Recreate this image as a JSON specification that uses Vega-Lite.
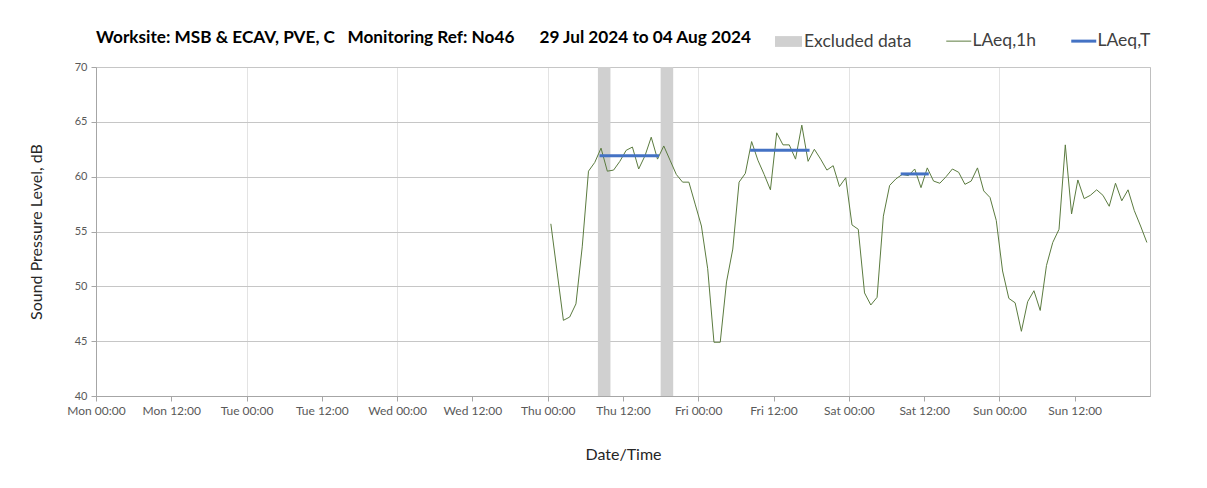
{
  "$schema": "https://vega.github.io/schema/vega-lite/v6.json",
  "width": 1054,
  "height": 329,
  "autosize": {"type": "none"},
  "padding": {"left": 96, "top": 67, "right": 57, "bottom": 92},
  "background": "white",
  "config": {
    "font": "Lato",
    "view": {"stroke": "#bfbfbf", "strokeWidth": 1}
  },
  "title": {
    "text": "Worksite: MSB & ECAV, PVE, C\u00a0\u00a0\u00a0Monitoring Ref: No46\u00a0\u00a0\u00a0\u00a0\u00a0\u00a029 Jul 2024 to 04 Aug 2024",
    "anchor": "start",
    "frame": "group",
    "fontSize": 17.2,
    "fontWeight": "bold",
    "color": "#000000",
    "baseline": "alphabetic",
    "offset": 0,
    "dy": 32
  },
  "datasets": {
    "excl": [
      {"t": "2024-08-01T08:00", "t2": "2024-08-01T10:00", "label": "Excluded data"},
      {"t": "2024-08-01T18:00", "t2": "2024-08-01T20:00", "label": "Excluded data"}
    ],
    "hourly": [
      {"t": "2024-08-01T00:30", "v": 55.7, "series": "LAeq,1h"},
      {"t": "2024-08-01T01:30", "v": 51.3, "series": "LAeq,1h"},
      {"t": "2024-08-01T02:30", "v": 46.9, "series": "LAeq,1h"},
      {"t": "2024-08-01T03:30", "v": 47.2, "series": "LAeq,1h"},
      {"t": "2024-08-01T04:30", "v": 48.4, "series": "LAeq,1h"},
      {"t": "2024-08-01T05:30", "v": 53.6, "series": "LAeq,1h"},
      {"t": "2024-08-01T06:30", "v": 60.5, "series": "LAeq,1h"},
      {"t": "2024-08-01T07:30", "v": 61.3, "series": "LAeq,1h"},
      {"t": "2024-08-01T08:30", "v": 62.6, "series": "LAeq,1h"},
      {"t": "2024-08-01T09:30", "v": 60.5, "series": "LAeq,1h"},
      {"t": "2024-08-01T10:30", "v": 60.6, "series": "LAeq,1h"},
      {"t": "2024-08-01T11:30", "v": 61.4, "series": "LAeq,1h"},
      {"t": "2024-08-01T12:30", "v": 62.4, "series": "LAeq,1h"},
      {"t": "2024-08-01T13:30", "v": 62.7, "series": "LAeq,1h"},
      {"t": "2024-08-01T14:30", "v": 60.7, "series": "LAeq,1h"},
      {"t": "2024-08-01T15:30", "v": 61.9, "series": "LAeq,1h"},
      {"t": "2024-08-01T16:30", "v": 63.6, "series": "LAeq,1h"},
      {"t": "2024-08-01T17:30", "v": 61.6, "series": "LAeq,1h"},
      {"t": "2024-08-01T18:30", "v": 62.8, "series": "LAeq,1h"},
      {"t": "2024-08-01T19:30", "v": 61.5, "series": "LAeq,1h"},
      {"t": "2024-08-01T20:30", "v": 60.2, "series": "LAeq,1h"},
      {"t": "2024-08-01T21:30", "v": 59.5, "series": "LAeq,1h"},
      {"t": "2024-08-01T22:30", "v": 59.5, "series": "LAeq,1h"},
      {"t": "2024-08-01T23:30", "v": 57.5, "series": "LAeq,1h"},
      {"t": "2024-08-02T00:30", "v": 55.5, "series": "LAeq,1h"},
      {"t": "2024-08-02T01:30", "v": 51.6, "series": "LAeq,1h"},
      {"t": "2024-08-02T02:30", "v": 44.9, "series": "LAeq,1h"},
      {"t": "2024-08-02T03:30", "v": 44.9, "series": "LAeq,1h"},
      {"t": "2024-08-02T04:30", "v": 50.4, "series": "LAeq,1h"},
      {"t": "2024-08-02T05:30", "v": 53.4, "series": "LAeq,1h"},
      {"t": "2024-08-02T06:30", "v": 59.5, "series": "LAeq,1h"},
      {"t": "2024-08-02T07:30", "v": 60.3, "series": "LAeq,1h"},
      {"t": "2024-08-02T08:30", "v": 63.2, "series": "LAeq,1h"},
      {"t": "2024-08-02T09:30", "v": 61.5, "series": "LAeq,1h"},
      {"t": "2024-08-02T10:30", "v": 60.2, "series": "LAeq,1h"},
      {"t": "2024-08-02T11:30", "v": 58.8, "series": "LAeq,1h"},
      {"t": "2024-08-02T12:30", "v": 64.0, "series": "LAeq,1h"},
      {"t": "2024-08-02T13:30", "v": 62.9, "series": "LAeq,1h"},
      {"t": "2024-08-02T14:30", "v": 62.9, "series": "LAeq,1h"},
      {"t": "2024-08-02T15:30", "v": 61.6, "series": "LAeq,1h"},
      {"t": "2024-08-02T16:30", "v": 64.7, "series": "LAeq,1h"},
      {"t": "2024-08-02T17:30", "v": 61.4, "series": "LAeq,1h"},
      {"t": "2024-08-02T18:30", "v": 62.5, "series": "LAeq,1h"},
      {"t": "2024-08-02T19:30", "v": 61.6, "series": "LAeq,1h"},
      {"t": "2024-08-02T20:30", "v": 60.6, "series": "LAeq,1h"},
      {"t": "2024-08-02T21:30", "v": 61.0, "series": "LAeq,1h"},
      {"t": "2024-08-02T22:30", "v": 59.1, "series": "LAeq,1h"},
      {"t": "2024-08-02T23:30", "v": 59.9, "series": "LAeq,1h"},
      {"t": "2024-08-03T00:30", "v": 55.6, "series": "LAeq,1h"},
      {"t": "2024-08-03T01:30", "v": 55.2, "series": "LAeq,1h"},
      {"t": "2024-08-03T02:30", "v": 49.4, "series": "LAeq,1h"},
      {"t": "2024-08-03T03:30", "v": 48.3, "series": "LAeq,1h"},
      {"t": "2024-08-03T04:30", "v": 49.0, "series": "LAeq,1h"},
      {"t": "2024-08-03T05:30", "v": 56.4, "series": "LAeq,1h"},
      {"t": "2024-08-03T06:30", "v": 59.2, "series": "LAeq,1h"},
      {"t": "2024-08-03T07:30", "v": 59.8, "series": "LAeq,1h"},
      {"t": "2024-08-03T08:30", "v": 60.2, "series": "LAeq,1h"},
      {"t": "2024-08-03T09:30", "v": 60.1, "series": "LAeq,1h"},
      {"t": "2024-08-03T10:30", "v": 60.7, "series": "LAeq,1h"},
      {"t": "2024-08-03T11:30", "v": 59.0, "series": "LAeq,1h"},
      {"t": "2024-08-03T12:30", "v": 60.8, "series": "LAeq,1h"},
      {"t": "2024-08-03T13:30", "v": 59.6, "series": "LAeq,1h"},
      {"t": "2024-08-03T14:30", "v": 59.4, "series": "LAeq,1h"},
      {"t": "2024-08-03T15:30", "v": 60.0, "series": "LAeq,1h"},
      {"t": "2024-08-03T16:30", "v": 60.7, "series": "LAeq,1h"},
      {"t": "2024-08-03T17:30", "v": 60.4, "series": "LAeq,1h"},
      {"t": "2024-08-03T18:30", "v": 59.3, "series": "LAeq,1h"},
      {"t": "2024-08-03T19:30", "v": 59.6, "series": "LAeq,1h"},
      {"t": "2024-08-03T20:30", "v": 60.8, "series": "LAeq,1h"},
      {"t": "2024-08-03T21:30", "v": 58.7, "series": "LAeq,1h"},
      {"t": "2024-08-03T22:30", "v": 58.1, "series": "LAeq,1h"},
      {"t": "2024-08-03T23:30", "v": 56.0, "series": "LAeq,1h"},
      {"t": "2024-08-04T00:30", "v": 51.4, "series": "LAeq,1h"},
      {"t": "2024-08-04T01:30", "v": 48.9, "series": "LAeq,1h"},
      {"t": "2024-08-04T02:30", "v": 48.5, "series": "LAeq,1h"},
      {"t": "2024-08-04T03:30", "v": 45.9, "series": "LAeq,1h"},
      {"t": "2024-08-04T04:30", "v": 48.6, "series": "LAeq,1h"},
      {"t": "2024-08-04T05:30", "v": 49.6, "series": "LAeq,1h"},
      {"t": "2024-08-04T06:30", "v": 47.8, "series": "LAeq,1h"},
      {"t": "2024-08-04T07:30", "v": 51.9, "series": "LAeq,1h"},
      {"t": "2024-08-04T08:30", "v": 54.0, "series": "LAeq,1h"},
      {"t": "2024-08-04T09:30", "v": 55.2, "series": "LAeq,1h"},
      {"t": "2024-08-04T10:30", "v": 62.9, "series": "LAeq,1h"},
      {"t": "2024-08-04T11:30", "v": 56.6, "series": "LAeq,1h"},
      {"t": "2024-08-04T12:30", "v": 59.7, "series": "LAeq,1h"},
      {"t": "2024-08-04T13:30", "v": 58.0, "series": "LAeq,1h"},
      {"t": "2024-08-04T14:30", "v": 58.3, "series": "LAeq,1h"},
      {"t": "2024-08-04T15:30", "v": 58.8, "series": "LAeq,1h"},
      {"t": "2024-08-04T16:30", "v": 58.3, "series": "LAeq,1h"},
      {"t": "2024-08-04T17:30", "v": 57.3, "series": "LAeq,1h"},
      {"t": "2024-08-04T18:30", "v": 59.4, "series": "LAeq,1h"},
      {"t": "2024-08-04T19:30", "v": 57.8, "series": "LAeq,1h"},
      {"t": "2024-08-04T20:30", "v": 58.8, "series": "LAeq,1h"},
      {"t": "2024-08-04T21:30", "v": 56.9, "series": "LAeq,1h"},
      {"t": "2024-08-04T22:30", "v": 55.5, "series": "LAeq,1h"},
      {"t": "2024-08-04T23:30", "v": 54.0, "series": "LAeq,1h"}
    ],
    "periods": [
      {"t": "2024-08-01T08:30", "t2": "2024-08-01T17:30", "v": 61.9, "series": "LAeq,T"},
      {"t": "2024-08-02T08:30", "t2": "2024-08-02T17:30", "v": 62.4, "series": "LAeq,T"},
      {"t": "2024-08-03T08:30", "t2": "2024-08-03T12:30", "v": 60.25, "series": "LAeq,T"}
    ]
  },
  "encoding": {
    "x": {
      "field": "t",
      "type": "temporal",
      "title": "Date/Time",
      "scale": {
        "domain": [
          {"year": 2024, "month": "jul", "date": 29, "hours": 0},
          {"year": 2024, "month": "aug", "date": 5, "hours": 0}
        ]
      },
      "axis": {
        "values": [
          {"year": 2024, "month": "jul", "date": 29, "hours": 0},
          {"year": 2024, "month": "jul", "date": 29, "hours": 12},
          {"year": 2024, "month": "jul", "date": 30, "hours": 0},
          {"year": 2024, "month": "jul", "date": 30, "hours": 12},
          {"year": 2024, "month": "jul", "date": 31, "hours": 0},
          {"year": 2024, "month": "jul", "date": 31, "hours": 12},
          {"year": 2024, "month": "aug", "date": 1, "hours": 0},
          {"year": 2024, "month": "aug", "date": 1, "hours": 12},
          {"year": 2024, "month": "aug", "date": 2, "hours": 0},
          {"year": 2024, "month": "aug", "date": 2, "hours": 12},
          {"year": 2024, "month": "aug", "date": 3, "hours": 0},
          {"year": 2024, "month": "aug", "date": 3, "hours": 12},
          {"year": 2024, "month": "aug", "date": 4, "hours": 0},
          {"year": 2024, "month": "aug", "date": 4, "hours": 12}
        ],
        "format": "%a %H:%M",
        "labelFontSize": 12,
        "labelColor": "#595959",
        "labelPadding": 4,
        "labelOverlap": false,
        "labelFlush": false,
        "tickSize": 5,
        "tickColor": "#a6a6a6",
        "domainColor": "#a6a6a6",
        "grid": true,
        "gridColor": {
          "condition": {"test": "hours(datum.value) === 12", "value": "rgba(0,0,0,0)"},
          "value": "#e3e3e3"
        },
        "titleFontSize": 16,
        "titleFontWeight": "normal",
        "titleColor": "#262626",
        "titlePadding": 30
      }
    }
  },
  "layer": [
    {
      "data": {"name": "excl"},
      "mark": {"type": "rect"},
      "encoding": {
        "x2": {"field": "t2"},
        "fill": {
          "field": "label",
          "type": "nominal",
          "scale": {"domain": ["Excluded data"], "range": ["#d0d0d0"]},
          "legend": {
            "orient": "none",
            "legendX": 679,
            "legendY": -39,
            "title": null,
            "direction": "horizontal",
            "symbolType": "M-1,-0.4H1V0.4H-1Z",
            "symbolSize": 729,
            "symbolStrokeWidth": 0,
            "symbolOpacity": 1,
            "labelFontSize": 17.5,
            "labelColor": "#404040",
            "labelOffset": 2
          }
        }
      }
    },
    {
      "data": {"name": "hourly"},
      "mark": {"type": "line", "strokeWidth": 1},
      "encoding": {
        "y": {
          "field": "v",
          "type": "quantitative",
          "title": "Sound Pressure Level, dB",
          "scale": {"domain": [40, 70], "nice": false, "zero": false},
          "axis": {
            "values": [40, 45, 50, 55, 60, 65, 70],
            "labelFontSize": 11,
            "labelColor": "#595959",
            "labelPadding": 4,
            "tickSize": 5,
            "tickColor": "#a6a6a6",
            "domainColor": "#a6a6a6",
            "gridColor": "#c6c6c6",
            "titleFontSize": 16,
            "titleFontWeight": "normal",
            "titleColor": "#262626",
            "titlePadding": 30
          }
        },
        "stroke": {
          "field": "series",
          "type": "nominal",
          "scale": {"domain": ["LAeq,1h", "LAeq,T"], "range": ["#5b7b3f", "#4472c4"]},
          "legend": {
            "orient": "none",
            "legendX": 854,
            "legendY": -35,
            "title": null,
            "direction": "horizontal",
            "symbolType": "stroke",
            "symbolSize": 625,
            "columnPadding": 28,
            "labelFontSize": 17.5,
            "labelColor": "#404040",
            "labelOffset": 5,
            "encode": {
              "symbols": {
                "update": {"strokeWidth": {"signal": "datum.value === 'LAeq,T' ? 3 : 1"}}
              }
            }
          }
        }
      }
    },
    {
      "data": {"name": "periods"},
      "mark": {"type": "rule", "strokeWidth": 3, "strokeCap": "square"},
      "encoding": {
        "x2": {"field": "t2"},
        "y": {"field": "v", "type": "quantitative", "title": "Sound Pressure Level, dB"},
        "stroke": {"field": "series", "type": "nominal"}
      }
    }
  ]
}
